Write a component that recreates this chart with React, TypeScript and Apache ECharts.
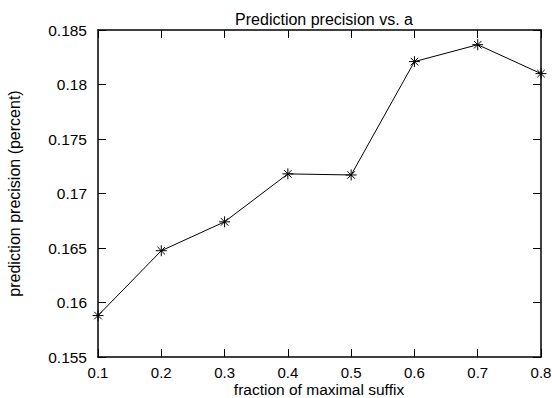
import React, { useEffect, useRef } from "react";
import * as echarts from "echarts";

const xValues = [0.1, 0.2, 0.3, 0.4, 0.5, 0.6, 0.7, 0.8];
const precision = [0.1588, 0.16475, 0.1674, 0.1718, 0.1717, 0.1821, 0.18365, 0.1810];
const titleText = "Prediction precision vs. a";
const xName = "fraction of maximal suffix";
const yName = "prediction precision (percent)";

const FONT = "'Liberation Sans', Arial, Helvetica, sans-serif";
const ASTERISK = "path://M5,0L5,10M0,5L10,5M1.6,1.6L8.4,8.4M1.6,8.4L8.4,1.6";

export default function App() {
  const ref = useRef<HTMLDivElement>(null);
  useEffect(() => {
    if (!ref.current) return;
    const chart = echarts.init(ref.current, undefined, { renderer: "svg" });
    const axisLine = { show: true, lineStyle: { color: "#000", width: 1.5 } };
    const tick = { show: true, inside: true, length: 8, lineStyle: { color: "#000", width: 1 } };
    chart.setOption({
      animation: false,
      backgroundColor: "#fff",
      title: {
        text: titleText,
        left: 319,
        top: 6,
        textAlign: "center",
        textStyle: { fontFamily: FONT, fontSize: 16, fontWeight: "normal", color: "#000" },
      },
      graphic: [
        {
          type: "text",
          x: 319,
          y: 389,
          style: {
            text: xName,
            fontFamily: FONT,
            fontSize: 15.5,
            fill: "#000",
            textAlign: "center",
            textVerticalAlign: "middle",
            verticalAlign: "middle",
          },
        },
      ],
      grid: { left: 98, right: 11, top: 30, bottom: 41, containLabel: false, outerBoundsMode: "none" },
      xAxis: [
        {
          type: "value",
          min: 0.1,
          max: 0.8,
          interval: 0.1,
          axisLine,
          axisTick: tick,
          splitLine: { show: false },
          axisLabel: { fontFamily: FONT, fontSize: 15, color: "#000", margin: 8 },
        },
        {
          type: "value",
          position: "top",
          min: 0.1,
          max: 0.8,
          interval: 0.1,
          axisLine,
          axisTick: tick,
          splitLine: { show: false },
          axisLabel: { show: false },
        },
      ],
      yAxis: [
        {
          type: "value",
          min: 0.155,
          max: 0.185,
          interval: 0.005,
          name: yName,
          nameLocation: "middle",
          nameGap: 76,
          nameTextStyle: { fontFamily: FONT, fontSize: 16, color: "#000" },
          axisLine,
          axisTick: tick,
          splitLine: { show: false },
          axisLabel: { fontFamily: FONT, fontSize: 15.5, color: "#000", margin: 11 },
        },
        {
          type: "value",
          position: "right",
          min: 0.155,
          max: 0.185,
          interval: 0.005,
          axisLine,
          axisTick: tick,
          splitLine: { show: false },
          axisLabel: { show: false },
        },
      ],
      series: [
        {
          type: "line",
          data: xValues.map((x, i) => [x, precision[i]]),
          symbol: ASTERISK,
          symbolSize: 11,
          showAllSymbol: true,
          lineStyle: { color: "#000", width: 1 },
          itemStyle: { color: "transparent", borderColor: "#000", borderWidth: 1 },
          clip: false,
        },
      ],
    });
    return () => chart.dispose();
  }, []);
  return <div ref={ref} style={{ width: 552, height: 398, position: "fixed", left: 0, top: 0 }} />;
}
